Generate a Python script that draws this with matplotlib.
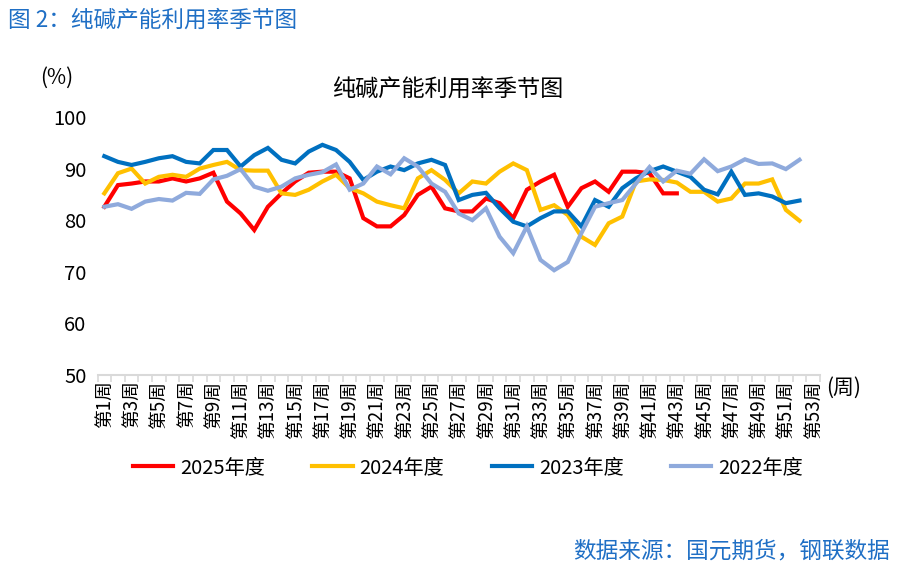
import matplotlib
matplotlib.use('Agg')
import matplotlib.pyplot as plt
import numpy as np

plt.rcParams['font.family'] = ['Noto Sans CJK SC', 'DejaVu Sans']

weeks = list(range(1, 54))
week_labels = [f'第{w}周' for w in weeks]

# 2025: weeks 1-43
y2025 = [82.6, 86.8, 87.1, 87.5, 87.5, 88.1, 87.5, 88.1, 89.2, 83.6,
         81.3, 78.1, 82.6, 85.2, 87.5, 89.2, 89.4, 89.4, 88.1, 80.4,
         78.8, 78.8, 81.0, 84.9, 86.5, 82.3, 81.7, 81.7, 84.2, 83.3,
         80.4, 85.9, 87.5, 88.8, 82.6, 86.2, 87.5, 85.5, 89.4, 89.4,
         89.1, 85.2, 85.2]
# 2024: weeks 1-52
y2024 = [85.2, 89.1, 90.0, 87.1, 88.4, 88.8, 88.4, 90.0, 90.7, 91.3,
         89.7, 89.6, 89.6, 85.2, 84.9, 85.9, 87.5, 88.8, 86.2, 85.2,
         83.6, 82.9, 82.3, 88.1, 89.7, 87.8, 85.2, 87.5, 87.1, 89.4,
         91.0, 89.7, 82.0, 82.9, 81.0, 76.8, 75.2, 79.4, 80.7, 87.5,
         87.9, 87.8, 87.3, 85.5, 85.5, 83.6, 84.2, 87.1, 87.1, 87.9,
         82.0, 79.9]
# 2023: weeks 1-52
y2023 = [92.4, 91.3, 90.7, 91.3, 92.0, 92.4, 91.3, 91.0, 93.6, 93.6,
         90.4, 92.6, 94.0, 91.7, 91.0, 93.3, 94.6, 93.6, 91.3, 87.8,
         89.4, 90.4, 89.7, 91.0, 91.7, 90.7, 83.9, 84.9, 85.3, 82.3,
         79.7, 78.8, 80.4, 81.7, 81.7, 78.8, 83.9, 82.6, 86.2, 88.1,
         89.5, 90.4, 89.4, 88.4, 85.9, 85.0, 89.4, 84.9, 85.2, 84.6,
         83.3, 83.8]
# 2022: weeks 1-52
y2022 = [82.6, 83.1, 82.2, 83.6, 84.1, 83.8, 85.3, 85.1, 87.9, 88.6,
         89.9, 86.5, 85.7, 86.5, 88.1, 88.8, 89.3, 90.8, 85.9, 87.1,
         90.4, 88.9, 92.0, 90.4, 87.1, 85.5, 81.3, 80.0, 82.3, 76.8,
         73.6, 78.8, 72.3, 70.3, 71.9, 77.5, 82.6, 83.3, 83.9, 87.1,
         90.3, 87.5, 89.6, 89.0, 91.8, 89.5, 90.4, 91.8, 90.9, 91.0,
         89.9, 91.7]

series = [('2025年度', y2025, '#ff0000'),
          ('2024年度', y2024, '#ffc000'),
          ('2023年度', y2023, '#0070c0'),
          ('2022年度', y2022, '#8faadc')]

fig = plt.figure(figsize=(9.07, 5.67), dpi=100)
ax = fig.add_axes([0.1075, 0.3386, 0.7965, 0.4551])

for name, vals, color in series:
    ax.plot(weeks[:len(vals)], vals, color=color, linewidth=3, label=name,
            solid_joinstyle='miter')

ax.set_xlim(0.5, 53.5)
ax.set_ylim(50, 100)
ax.set_yticks(range(50, 101, 10))
ax.tick_params(axis='y', length=0, labelsize=14.5, pad=8)

ax.set_xticks(weeks[::2])
ax.set_xticklabels(week_labels[::2], rotation=90, fontsize=13.5)
ax.set_xticks(np.arange(0.5, 54, 1), minor=True)
ax.tick_params(axis='x', which='major', length=0, pad=4)
ax.tick_params(axis='x', which='minor', length=5, color='#d9d9d9', width=1.2)

for s in ('left', 'top', 'right'):
    ax.spines[s].set_visible(False)
ax.spines['bottom'].set_color('#d9d9d9')
ax.spines['bottom'].set_linewidth(1.5)

fig.text(40 / 907, 1 - 78 / 567, '(%)', fontsize=15, va='center', ha='left')
fig.text(826 / 907, 1 - 388 / 567, '(周)', fontsize=15, va='center', ha='left')
fig.text(448 / 907, 1 - 90 / 567, '纯碱产能利用率季节图', fontsize=16.7,
         ha='center', va='center')
fig.text(8 / 907, 1 - 20 / 567, '图 2：纯碱产能利用率季节图', fontsize=16.3,
         color='#1f6fc5', ha='left', va='center')
fig.text(890 / 907, 1 - 551 / 567, '数据来源：国元期货，钢联数据', fontsize=16.3,
         color='#1f6fc5', ha='right', va='center')

fig.legend(loc='center', bbox_to_anchor=(468 / 907, 1 - 468 / 567), ncol=4,
           frameon=False, fontsize=14.5, handlelength=2.0, columnspacing=2.35,
           handletextpad=0.35)

fig.savefig('out.png', dpi=100)
